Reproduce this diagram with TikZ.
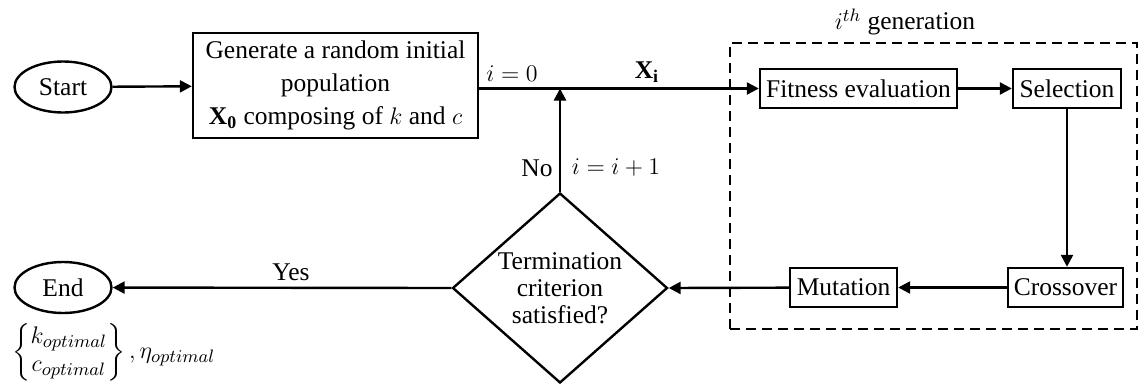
\documentclass[tikz,border=0pt]{standalone}
\usepackage{amsmath}
\usepackage{fontspec}
\setmainfont{Liberation Serif}
\usetikzlibrary{arrows.meta,positioning,shapes.geometric}
\tikzset{
  term/.style   ={ellipse,draw,line width=1.2pt,minimum width=48.5pt,minimum height=25.5pt,inner sep=0pt},
  proc/.style   ={rectangle,draw,line width=1.2pt,minimum height=19.5pt,inner sep=2pt},
  test/.style   ={diamond,draw,line width=1.2pt,minimum width=107.5pt,minimum height=95pt,inner sep=-1pt,align=center,
                  font=\fontsize{12.75}{13.5}\selectfont},
  genframe/.style={draw,dash pattern=on 5pt off 3pt,line width=1.1pt,inner sep=0pt},
  flow/.style   ={line width=1.2pt,-{Triangle[length=6pt,width=6pt]}},
  lbl/.style    ={inner sep=1pt},
}

\begin{document}
\begin{tikzpicture}[x=0.5pt,y=-0.5pt,font=\fontsize{12.75}{16.5}\selectfont]
  \useasboundingbox (0,0) rectangle (1145,386);
  \node[term](start) at (63,87){Start};
  \node[term](end) at (63,287.5){End};
  \node[proc,minimum width=142.5pt,minimum height=52.5pt,align=center](init) at (335.5,85.5){Generate a random initial\\population\\$\mathbf{X_0}$ composing of $k$ and $c$};
  \node[genframe,minimum width=203.5pt,minimum height=143pt](gen) at (933.5,186){};
  \node[lbl](genlbl) at (905,22){$i^{th}$ generation};
  \node[proc,minimum width=98.5pt](fit) at (858.5,88.5){Fitness evaluation};
  \node[proc,minimum width=54pt](sel) at (1067,88.5){Selection};
  \node[proc,minimum width=57.5pt](cross) at (1065.5,287.5){Crossover};
  \node[proc,minimum width=53.5pt](mut) at (843.5,287.5){Mutation};
  \node[test](term) at (560,288){Termination\\criterion\\satisfied?};
  \coordinate (join) at (term.north |- fit.west);
  \draw[flow](start)--(init);
  \draw[flow](init.east |- fit.west)--(fit.west);
  \draw[flow](fit)--(sel);
  \draw[flow](sel.south)--(sel.south |- cross.north);
  \draw[flow](cross)--(mut);
  \draw[flow](mut)--(term.east);
  \draw[flow](term.north)--(join);
  \draw[flow](term.west)--(end);
  \node[lbl](izero) at (512,74){$i=0$};
  \node[lbl](xi) at (647,72){$\mathbf{X_i}$};
  \node[lbl](no) at (537,168){No};
  \node[lbl](inc) at (616,168){$i=i+1$};
  \node[lbl](yes) at (291,272){Yes};
  \node[lbl](res) at (114,352){$\left\{\renewcommand\arraystretch{0.85}\begin{array}{@{}c@{}}k_{optimal}\\c_{optimal}\end{array}\right\},\eta_{optimal}$};
\end{tikzpicture}
\end{document}
